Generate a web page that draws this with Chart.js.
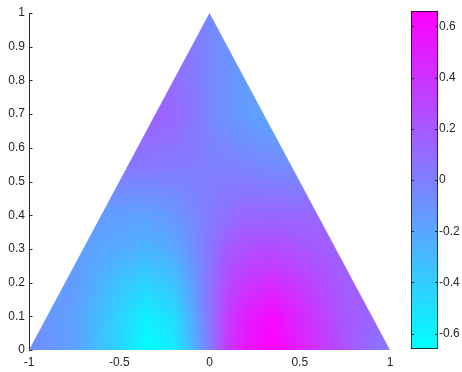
<!DOCTYPE html>
<html>
<head>
<meta charset="utf-8">
<script src="https://cdn.jsdelivr.net/npm/chart.js@4"></script>
<style>
body{margin:0;background:#fff;}
#wrap{position:relative;width:462px;height:372px;}
#main{position:absolute;left:0;top:0;width:400px;height:372px;}
#bar{position:absolute;left:390px;top:0;width:72px;height:372px;}
</style>
</head>
<body>
<div id="wrap">
  <div id="main"><canvas id="field"></canvas></div>
  <div id="bar"><canvas id="cbar"></canvas></div>
</div>
<script>
// triangle outline
let triX=[-1,0,1]
let triY=[0,1,0]

let gridX=[-1,-0.75,-0.5,-0.35,-0.2,-0.1,0,0.1,0.2,0.35,0.5,0.75,1]
let gridY=[0,0.1,0.2,0.3,0.4,0.55,0.7,0.85,1]
let row0 =[-0.06,-0.17,-0.45,-0.66,-0.56,-0.30, 0.01, 0.37, 0.56, 0.66, 0.50, 0.23, 0.00]
let row1 =[-0.09,-0.17,-0.43,-0.58,-0.48,-0.24, 0.06, 0.35, 0.50, 0.61, 0.45, 0.20, 0.10]
let row2 =[-0.12,-0.14,-0.35,-0.43,-0.35,-0.17, 0.06, 0.27, 0.37, 0.43, 0.35, 0.17, 0.15]
let row3 =[-0.14,-0.15,-0.22,-0.27,-0.22,-0.09, 0.05, 0.19, 0.25, 0.27, 0.22, 0.14, 0.14]
let row4 =[-0.14,-0.14,-0.16,-0.17,-0.12,-0.05, 0.02, 0.08, 0.12, 0.13, 0.12, 0.12, 0.12]
let row5 =[ 0.04, 0.04, 0.04, 0.04, 0.03, 0.02, 0.00,-0.01,-0.03,-0.06,-0.08,-0.08,-0.08]
let row6 =[ 0.17, 0.17, 0.17, 0.17, 0.12, 0.06,-0.04,-0.10,-0.15,-0.20,-0.20,-0.20,-0.20]
let row7 =[ 0.08, 0.08, 0.08, 0.08, 0.08, 0.04,-0.04,-0.10,-0.14,-0.14,-0.14,-0.14,-0.14]
let row8 =[ 0.02, 0.02, 0.02, 0.02, 0.02, 0.01,-0.04,-0.08,-0.10,-0.10,-0.10,-0.10,-0.10]
let fieldRows=[row0,row1,row2,row3,row4,row5,row6,row7,row8]

let xTicks=[-1,-0.5,0,0.5,1]
let yTicks=[0,0.1,0.2,0.3,0.4,0.5,0.6,0.7,0.8,0.9,1]
let cLim=[-0.66,0.66]
let cTicks=[-0.6,-0.4,-0.2,0,0.2,0.4,0.6]

const txtColor='#262626'
const font={family:'"Liberation Sans", Arial, sans-serif',size:12}

function locate(arr,v){
    let i=0;
    while(i<arr.length-2 && v>arr[i+1]) i++;
    let t=(v-arr[i])/(arr[i+1]-arr[i]);
    return [i,Math.max(0,Math.min(1,t))];
}
function fieldAt(x,y){
    const [i,tx]=locate(gridX,x);
    const [j,ty]=locate(gridY,y);
    const r0=fieldRows[j], r1=fieldRows[j+1];
    const a=r0[i]*(1-tx)+r0[i+1]*tx;
    const b=r1[i]*(1-tx)+r1[i+1]*tx;
    return a*(1-ty)+b*ty;
}
function fmt(v){ return String(Math.round(v*10)/10); }

// paints the interpolated field inside the triangle
const fieldPlugin={
    id:'field',
    beforeDatasetsDraw(chart){
        const ctx=chart.ctx, xs=chart.scales.x, ys=chart.scales.y;
        const pts=chart.getDatasetMeta(0).data;
        const left=Math.floor(Math.min(...pts.map(p=>p.x)));
        const right=Math.ceil(Math.max(...pts.map(p=>p.x)));
        const top=Math.floor(Math.min(...pts.map(p=>p.y)));
        const bottom=Math.ceil(Math.max(...pts.map(p=>p.y)));
        const w=right-left+1, h=bottom-top+1;
        const off=document.createElement('canvas');
        off.width=w; off.height=h;
        const octx=off.getContext('2d');
        const img=octx.createImageData(w,h);
        for(let py=0;py<h;py++){
            const vy=ys.getValueForPixel(top+py+0.5);
            for(let px=0;px<w;px++){
                const vx=xs.getValueForPixel(left+px+0.5);
                let t=(fieldAt(vx,vy)-cLim[0])/(cLim[1]-cLim[0]);
                t=Math.max(0,Math.min(1,t));
                const k=(py*w+px)*4;
                img.data[k]=Math.round(255*t);
                img.data[k+1]=Math.round(255*(1-t));
                img.data[k+2]=255;
                img.data[k+3]=255;
            }
        }
        octx.putImageData(img,0,0);
        ctx.save();
        ctx.beginPath();
        pts.forEach((p,i)=>{ if(i==0) ctx.moveTo(p.x,p.y); else ctx.lineTo(p.x,p.y); });
        ctx.closePath();
        ctx.clip();
        ctx.drawImage(off,left,top);
        ctx.restore();
    },
    afterDraw(chart){
        // inward tick marks on y axis
        const ctx=chart.ctx, ys=chart.scales.y, l=chart.chartArea.left;
        ctx.save();
        ctx.strokeStyle=txtColor;
        ctx.lineWidth=1;
        ctx.beginPath();
        yTicks.forEach(v=>{
            const y=Math.round(ys.getPixelForValue(v))+0.5;
            ctx.moveTo(l,y); ctx.lineTo(l+3.5,y);
        });
        ctx.stroke();
        ctx.restore();
    }
};

new Chart(document.getElementById('field'),{
    type:'scatter',
    data:{
        datasets:[{
            data:triX.map((x,i)=>({x:x,y:triY[i]})),
            pointRadius:0,
            showLine:false,
            borderWidth:0
        }]
    },
    options:{
        responsive:true,
        maintainAspectRatio:false,
        animation:false,
        layout:{padding:{left:0,top:13,right:10,bottom:0}},
        plugins:{legend:{display:false},tooltip:{enabled:false}},
        scales:{
            x:{
                min:-1,max:1,
                afterBuildTicks:s=>{s.ticks=xTicks.map(v=>({value:v}))},
                afterFit:s=>{s.height=22},
                grid:{display:false,drawTicks:false},
                border:{display:false},
                ticks:{color:txtColor,font:font,padding:5,maxRotation:0,autoSkip:false,callback:v=>fmt(v)}
            },
            y:{
                min:0,max:1,
                afterBuildTicks:s=>{s.ticks=yTicks.map(v=>({value:v}))},
                afterFit:s=>{s.width=29},
                grid:{display:false,drawTicks:false},
                border:{display:true,color:txtColor,width:1},
                ticks:{color:txtColor,font:font,padding:4,autoSkip:false,callback:v=>fmt(v)}
            }
        }
    },
    plugins:[fieldPlugin]
});

// colorbar
const cbarTicks={
    id:'cbarTicks',
    afterDraw(chart){
        const ctx=chart.ctx, ys=chart.scales.y, a=chart.chartArea;
        ctx.save();
        ctx.strokeStyle=txtColor;
        ctx.lineWidth=1;
        ctx.beginPath();
        cTicks.forEach(v=>{
            const y=Math.round(ys.getPixelForValue(v))+0.5;
            ctx.moveTo(a.left,y); ctx.lineTo(a.left+3,y);
            ctx.moveTo(a.right-3,y); ctx.lineTo(a.right,y);
        });
        ctx.stroke();
        ctx.restore();
    }
};

new Chart(document.getElementById('cbar'),{
    type:'bar',
    data:{
        labels:['c'],
        datasets:[{
            data:[cLim],
            backgroundColor:function(c){
                const chart=c.chart;
                if(!chart.chartArea) return '#7f7fff';
                const ys=chart.scales.y;
                const g=chart.ctx.createLinearGradient(0,ys.getPixelForValue(cLim[0]),0,ys.getPixelForValue(cLim[1]));
                g.addColorStop(0,'rgb(0,255,255)');
                g.addColorStop(1,'rgb(255,0,255)');
                return g;
            },
            borderColor:'#000',
            borderWidth:1,
            borderSkipped:false,
            barPercentage:1,
            categoryPercentage:1
        }]
    },
    options:{
        responsive:true,
        maintainAspectRatio:false,
        animation:false,
        layout:{padding:{left:21,top:11,right:0,bottom:23}},
        plugins:{legend:{display:false},tooltip:{enabled:false}},
        scales:{
            x:{display:false},
            y:{
                position:'right',
                min:cLim[0],max:cLim[1],
                afterBuildTicks:s=>{s.ticks=cTicks.map(v=>({value:v}))},
                afterFit:s=>{s.width=24},
                grid:{display:false,drawTicks:false},
                border:{display:false},
                ticks:{color:txtColor,font:font,padding:1,autoSkip:false,callback:v=>fmt(v)}
            }
        }
    },
    plugins:[cbarTicks]
});
</script>
</body>
</html>
